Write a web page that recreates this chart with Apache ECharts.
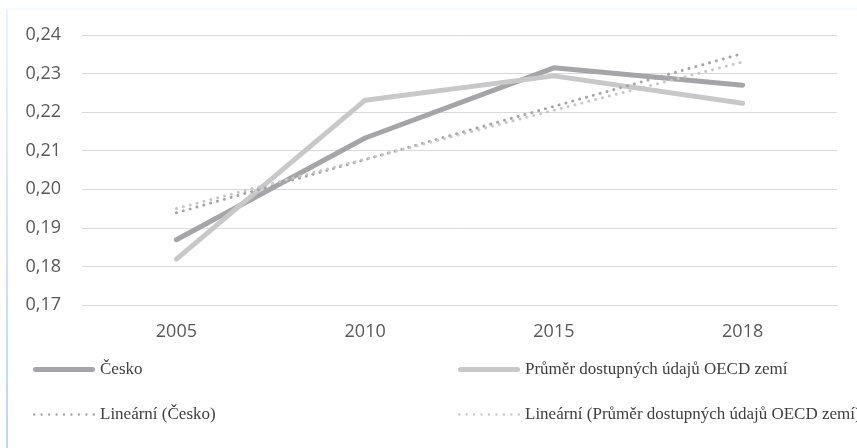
<!DOCTYPE html>
<html>
<head>
<meta charset="utf-8">
<script src="https://cdn.jsdelivr.net/npm/echarts@6/dist/echarts.min.js"></script>
<style>
  html, body { margin: 0; padding: 0; background: #fff; }
  #chart { width: 857px; height: 448px; }
</style>
</head>
<body>
<div id="chart"></div>
<script>
// data
var years = ['2005', '2010', '2015', '2018'];
var cesko = [0.1869, 0.2133, 0.2315, 0.2270];
var oecd = [0.1819, 0.2231, 0.2294, 0.2223];
var ceskoTrend = [0.1939, 0.2077, 0.2215, 0.2352];
var oecdTrend = [0.1950, 0.2078, 0.2205, 0.2330];
var yTicks = { min: 0.17, max: 0.24, step: 0.01 };

var names = [
    'Česko',
    'Průměr dostupných údajů OECD zemí',
    'Lineární (Česko)',
    'Lineární (Průměr dostupných údajů OECD zemí)'
];

var dark = '#a5a5a7';
var light = '#c8c8c8';
var legendText = { fontFamily: 'Liberation Serif', fontSize: 17, color: '#404040' };

// legend icons: a thick bar and a row of dots
var solidIcon = 'path://M2.5,0 H59.5 A2.5,2.5 0 0 1 59.5,5 H2.5 A2.5,2.5 0 0 1 2.5,0 Z';
var dotIcon = 'path://';
for (var i = 0; i < 9; i++) {
    var cx = i * 7.5;
    dotIcon += 'M' + cx + ',1.2 a1.2,1.2 0 1,0 2.4,0 a1.2,1.2 0 1,0 -2.4,0 ';
}

function legendAt(name, left, top, dotted) {
    return {
        data: [{ name: name, icon: dotted ? dotIcon : solidIcon }],
        left: left,
        top: top,
        itemWidth: 62,
        itemHeight: dotted ? 2.4 : 5,
        itemGap: 0,
        padding: 0,
        textStyle: legendText,
        selectedMode: false
    };
}

var myChart = echarts.init(document.getElementById('chart'));
var option = {
    animation: false,
    backgroundColor: '#fff',
    graphic: [
        {
            type: 'rect',
            shape: { x: 7, y: 9, width: 860, height: 450 },
            style: { fill: 'none', stroke: '#eef3f9', lineWidth: 1 },
            silent: true
        },
        {
            type: 'line',
            shape: { x1: 7, y1: 9, x2: 7, y2: 448 },
            style: {
                stroke: new echarts.graphic.LinearGradient(0, 0, 0, 1, [
                    { offset: 0, color: '#eef3f9' },
                    { offset: 1, color: '#bcd5ef' }
                ]),
                lineWidth: 2
            },
            silent: true
        }
    ],
    grid: { left: 82, right: 20, top: 35, bottom: 143 },
    legend: [
        legendAt(names[0], 33, 361, false),
        legendAt(names[1], 458, 361, false),
        legendAt(names[2], 33, 406, true),
        legendAt(names[3], 458, 406, true)
    ],
    xAxis: {
        type: 'category',
        data: years,
        boundaryGap: true,
        axisLine: { show: true, lineStyle: { color: '#d9d9d9', width: 1 } },
        axisTick: { show: false },
        axisLabel: { fontFamily: 'Open Sans', fontSize: 18, color: '#595959', margin: 18 }
    },
    yAxis: {
        type: 'value',
        min: yTicks.min,
        max: yTicks.max,
        interval: yTicks.step,
        axisLine: { show: false },
        axisTick: { show: false },
        splitLine: { lineStyle: { color: '#d9d9d9', width: 1 } },
        axisLabel: {
            fontFamily: 'Open Sans',
            fontSize: 18,
            color: '#595959',
            margin: 21,
            formatter: function (v) { return v.toFixed(2).replace('.', ','); }
        }
    },
    series: [
        {
            name: names[0], type: 'line', data: cesko, symbol: 'none',
            itemStyle: { color: dark },
            lineStyle: { color: dark, width: 5, cap: 'round', join: 'round' }
        },
        {
            name: names[1], type: 'line', data: oecd, symbol: 'none',
            itemStyle: { color: light },
            lineStyle: { color: light, width: 5, cap: 'round', join: 'round' }
        },
        {
            name: names[2], type: 'line', data: ceskoTrend, symbol: 'none',
            itemStyle: { color: dark },
            lineStyle: { color: dark, width: 3, type: [0.1, 7], cap: 'round' }
        },
        {
            name: names[3], type: 'line', data: oecdTrend, symbol: 'none',
            itemStyle: { color: light },
            lineStyle: { color: light, width: 3, type: [0.1, 7], cap: 'round' }
        }
    ]
};
myChart.setOption(option);
</script>
</body>
</html>
